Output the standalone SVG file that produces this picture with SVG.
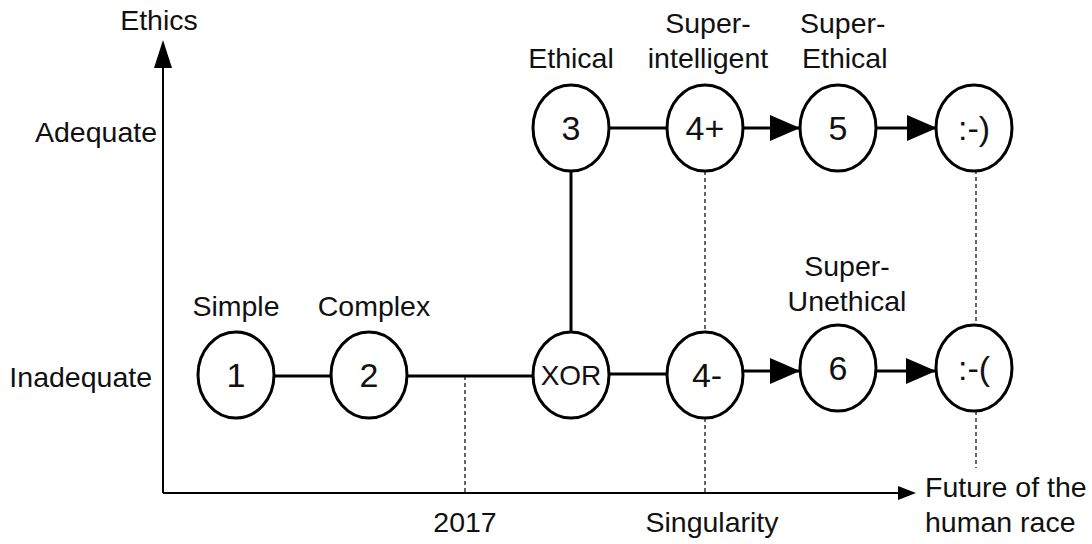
<svg xmlns="http://www.w3.org/2000/svg" width="1092" height="544" viewBox="0 0 1092 544">
<style>
text{font-family:"Liberation Sans",Arial,sans-serif;fill:#111;}
.lbl{font-size:28.5px;}
.num{font-size:34px;text-anchor:middle;}
.node ellipse{fill:#fff;stroke:#000;stroke-width:3;}
.edge{stroke:#000;stroke-width:3;fill:none;}
.dash{stroke:#000;stroke-width:1.2;stroke-dasharray:4,3;fill:none;}
.axis{stroke:#000;stroke-width:2;fill:none;}
</style>
<defs>
<marker id="big" viewBox="0 0 30 26" refX="30" refY="13" markerWidth="30" markerHeight="26" orient="auto" markerUnits="userSpaceOnUse">
<path d="M0,0 L30,13 L0,26 Z" fill="#000"/>
</marker>
</defs>
<g id="axes">
<line class="axis" x1="163" y1="493" x2="163" y2="68"/>
<path d="M154,68 L172,68 L163,40 Z" fill="#000"/>
<line class="axis" x1="163" y1="493" x2="900" y2="493"/>
<path d="M898,486 L916,493 L898,500 Z" fill="#000"/>
<text class="lbl" x="159" y="30" text-anchor="middle">Ethics</text>
<text class="lbl" x="157" y="142" text-anchor="end">Adequate</text>
<text class="lbl" x="152" y="387" text-anchor="end">Inadequate</text>
<text class="lbl" x="465" y="532" text-anchor="middle">2017</text>
<text class="lbl" x="712" y="532" text-anchor="middle">Singularity</text>
<text class="lbl" x="925" y="497">Future of the</text>
<text class="lbl" x="925" y="532">human race</text>
</g>
<g id="connectors">
<line class="dash" x1="465" y1="376" x2="465" y2="493"/>
<line class="dash" x1="705" y1="171" x2="705" y2="332"/>
<line class="dash" x1="705" y1="418" x2="705" y2="493"/>
<line class="dash" x1="976" y1="170" x2="976" y2="325"/>
<line class="dash" x1="976" y1="411" x2="976" y2="468"/>
<line class="edge" x1="275" y1="376" x2="331" y2="376"/>
<line class="edge" x1="407" y1="376" x2="533" y2="376"/>
<line class="edge" x1="609" y1="374" x2="667" y2="374"/>
<line class="edge" x1="743" y1="371" x2="800" y2="371" marker-end="url(#big)"/>
<line class="edge" x1="876" y1="371" x2="936" y2="371" marker-end="url(#big)"/>
<line class="edge" x1="571" y1="332" x2="571" y2="171"/>
<line class="edge" x1="609" y1="128" x2="667" y2="128"/>
<line class="edge" x1="743" y1="128" x2="800" y2="128" marker-end="url(#big)"/>
<line class="edge" x1="876" y1="128" x2="937" y2="128" marker-end="url(#big)"/>
</g>
<g id="n1" class="node"><ellipse cx="236" cy="375" rx="38" ry="43"/><text class="num" x="236" y="387">1</text><text class="lbl" x="236" y="316" text-anchor="middle">Simple</text></g>
<g id="n2" class="node"><ellipse cx="369" cy="375" rx="38" ry="43"/><text class="num" x="369" y="387">2</text><text class="lbl" x="374" y="316" text-anchor="middle">Complex</text></g>
<g id="nxor" class="node"><ellipse cx="571" cy="375" rx="38" ry="43"/><text class="num" style="font-size:28px" x="571" y="385">XOR</text></g>
<g id="n4m" class="node"><ellipse cx="705" cy="375" rx="38" ry="43"/><text class="num" x="707" y="387">4-</text></g>
<g id="n6" class="node"><ellipse cx="838" cy="368" rx="38" ry="43"/><text class="num" x="838" y="380">6</text><text class="lbl" x="847" y="276" text-anchor="middle">Super-</text><text class="lbl" x="847" y="311" text-anchor="middle">Unethical</text></g>
<g id="nsad" class="node"><ellipse cx="974" cy="368" rx="38" ry="43"/><text class="num" x="974" y="380">:-(</text></g>
<g id="n3" class="node"><ellipse cx="571" cy="128" rx="38" ry="43"/><text class="num" x="571" y="140">3</text><text class="lbl" x="571" y="68" text-anchor="middle">Ethical</text></g>
<g id="n4p" class="node"><ellipse cx="705" cy="128" rx="38" ry="43"/><text class="num" x="705" y="140">4+</text><text class="lbl" x="708" y="33" text-anchor="middle">Super-</text><text class="lbl" x="708" y="68" text-anchor="middle">intelligent</text></g>
<g id="n5" class="node"><ellipse cx="838" cy="128" rx="38" ry="43"/><text class="num" x="838" y="140">5</text><text class="lbl" x="800" y="33">Super-</text><text class="lbl" x="802" y="68">Ethical</text></g>
<g id="nhappy" class="node"><ellipse cx="974" cy="128" rx="38" ry="43"/><text class="num" x="974" y="140">:-)</text></g>
</svg>
